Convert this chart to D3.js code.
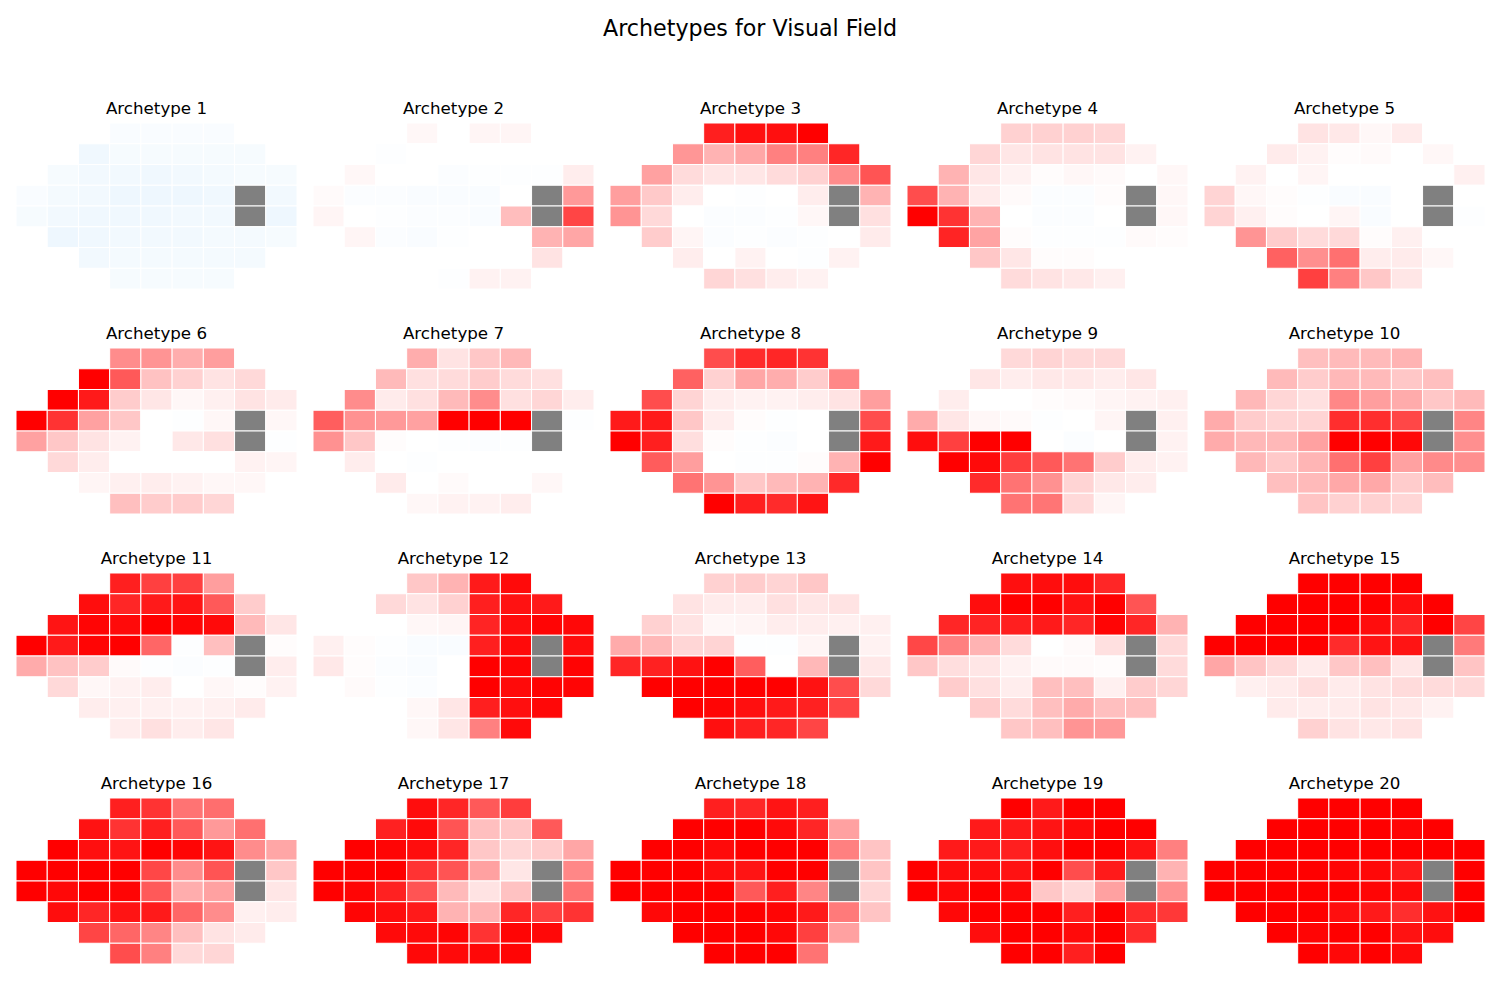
<!DOCTYPE html>
<html>
<head>
<meta charset="utf-8">
<script src="https://cdn.jsdelivr.net/npm/d3@7"></script>
<style>
  body { margin: 0; background: #fff; }
  text { font-family: "DejaVu Sans", sans-serif; fill: #000; }
</style>
</head>
<body>
<svg id="chart" width="1500" height="1000"></svg>
<script>
// first column of each of the 8 field rows (24-2 style pattern)
var rowStart = [3, 2, 1, 0, 0, 1, 2, 3];

// deviation per test point, -100..100 (null = blind spot)
var arch01 = [[-3,-3,-3,-3],[-7,-4,-4,-4,-4,-4],[-4,-6,-6,-7,-6,-5,-4,-4],[-3,-5,-6,-8,-8,-8,-7,null,-6],[-4,-6,-7,-7,-7,-6,-6,null,-8],[-8,-7,-6,-6,-6,-5,-5,-4],[-6,-5,-5,-5,-5,-5],[-4,-4,-4,-4]];
var arch02 = [[3,0,4,4],[-1,0,0,0,0,0],[3,0,0,-2,-1,-1,-1,7],[2,-2,-2,-3,-3,-3,0,null,40],[4,0,-1,-2,-2,-3,26,null,73],[4,-2,-3,-1,0,0,30,35],[0,0,0,0,0,11],[0,-1,5,5]];
var arch03 = [[88,94,94,100],[41,30,35,50,50,85],[37,14,10,10,14,18,45,67],[38,21,7,0,-1,0,7,null,30],[42,15,0,-2,-2,-1,3,null,12],[20,4,-2,-1,-2,-1,0,8],[7,0,5,0,-1,5],[16,12,7,5]];
var arch04 = [[18,18,18,16],[16,10,11,11,11,5],[30,10,5,1,3,2,0,3],[70,30,8,2,-2,-2,1,null,3],[100,80,30,0,-2,-2,0,null,3],[86,36,1,-1,-1,-1,2,1],[22,10,1,1,0,0],[14,11,9,6]];
var arch05 = [[11,9,3,8],[8,5,1,2,0,3],[5,0,4,0,0,0,0,6],[17,3,1,-1,-3,-3,0,null,0],[17,6,1,0,4,-3,0,null,-1],[42,20,14,15,1,6,0,0],[62,44,56,7,8,3],[75,50,22,10]];
var arch06 = [[45,42,32,38],[100,65,24,18,11,15],[100,90,20,10,3,6,11,8],[100,80,37,22,0,-1,3,null,3],[37,22,11,5,0,9,12,null,-1],[15,7,0,0,0,0,5,4],[4,6,7,5,3,3],[25,20,20,16]];
var arch07 = [[32,11,22,28],[27,12,14,20,14,12],[45,8,12,27,45,12,16,7],[63,43,40,37,100,100,100,null,-1],[43,22,1,0,-1,-2,-1,null,0],[7,0,-1,0,0,0,0,0],[8,0,2,0,0,3],[3,5,5,7]];
var arch08 = [[70,83,85,80],[62,18,35,32,20,47],[70,17,7,5,5,7,11,38],[90,90,22,7,1,-1,0,null,70],[100,88,13,1,-1,-2,0,null,90],[64,38,0,-1,-1,1,30,100],[55,42,22,27,30,84],[100,88,83,92]];
var arch09 = [[15,17,15,15],[10,7,9,9,7,10],[7,0,0,1,2,4,5,6],[33,10,3,2,-1,0,4,null,6],[95,75,100,100,0,-2,0,null,5],[100,96,76,65,55,20,7,5],[83,55,43,17,9,7],[55,54,15,4]];
var arch10 = [[25,27,27,30],[27,20,28,27,22,25],[28,16,12,47,38,33,22,27],[33,20,17,17,82,82,72,null,48],[33,28,28,37,100,100,97,null,44],[28,21,29,56,75,37,46,44],[25,27,34,34,20,26],[23,18,18,16]];
var arch11 = [[88,75,75,38],[95,85,90,92,65,20],[92,98,96,100,98,96,27,10],[100,90,98,100,60,-1,25,null,1],[33,24,20,2,-1,-2,-1,null,7],[15,3,5,7,0,3,1,5],[7,6,6,5,6,8],[7,12,7,10]];
var arch12 = [[22,30,90,96],[15,11,18,88,93,90],[0,0,3,4,86,95,98,97],[6,1,-1,-3,-3,88,96,null,95],[9,1,-2,-3,0,100,98,null,99],[2,-1,-2,0,100,96,99,98],[0,3,10,88,94,97],[3,10,50,96]];
var arch13 = [[18,20,17,22],[11,8,7,12,10,11],[18,11,3,4,7,7,6,6],[33,28,16,17,-1,-1,4,null,5],[85,87,93,100,63,0,28,null,9],[100,100,100,100,100,93,70,15],[100,98,94,90,87,73],[94,88,85,73]];
var arch14 = [[94,95,95,85],[95,100,100,93,100,67],[85,86,88,90,85,98,85,30],[72,50,30,14,0,2,12,null,15],[22,13,10,5,2,2,1,null,14],[20,12,7,25,25,6,20,16],[20,14,25,33,25,25],[22,25,42,40]];
var arch15 = [[100,100,100,100],[100,100,100,100,94,100],[100,100,100,100,95,85,100,73],[100,100,100,100,83,92,92,null,52],[35,23,15,8,22,25,10,null,23],[6,8,13,8,11,14,14,15],[8,7,8,11,9,5],[18,11,9,11]];
var arch16 = [[88,80,55,57],[93,80,88,65,40,56],[100,94,92,100,98,92,45,35],[100,100,100,100,72,45,67,null,22],[100,97,100,98,65,32,37,null,10],[95,85,92,90,60,45,6,7],[73,60,48,25,11,8],[70,50,15,16]];
var arch17 = [[95,85,65,76],[87,96,67,25,22,65],[100,98,95,85,22,16,20,35],[100,100,100,80,67,37,10,null,47],[100,98,87,67,27,11,24,null,55],[98,95,90,30,30,85,75,80],[96,96,98,80,98,97],[97,96,97,98]];
var arch18 = [[88,85,92,88],[100,100,100,96,85,37],[100,100,96,100,100,100,50,23],[100,100,100,95,92,100,100,null,23],[100,100,100,100,65,88,48,null,16],[97,100,100,100,98,90,52,23],[100,100,100,97,75,37],[100,100,100,55]];
var arch19 = [[100,90,100,100],[90,90,92,96,100,100],[90,90,88,94,100,100,92,50],[100,95,95,93,100,70,90,null,30],[100,97,100,97,22,15,37,null,43],[97,100,100,100,88,100,83,78],[95,100,100,96,100,83],[100,100,88,100]];
var arch20 = [[100,100,100,100],[100,100,100,100,98,100],[100,100,100,100,100,100,100,100],[100,100,100,100,98,97,90,null,100],[100,100,100,100,100,98,96,null,100],[100,100,100,94,90,82,93,100],[100,98,100,100,93,95],[100,97,100,96]];

var archetypes = [arch01, arch02, arch03, arch04, arch05, arch06, arch07, arch08, arch09, arch10,
                  arch11, arch12, arch13, arch14, arch15, arch16, arch17, arch18, arch19, arch20];

var svg = d3.select("#chart");

// Title
svg.append("text")
  .attr("x", 750)
  .attr("y", 36)
  .attr("text-anchor", "middle")
  .style("font-size", "22.2px")
  .text("Archetypes for Visual Field");

var panelW = 281, panelH = 166;
var x = d3.scaleBand().domain(d3.range(9)).range([0, panelW]);
var y = d3.scaleBand().domain(d3.range(8)).range([0, panelH]);

var color = d3.scaleLinear()
  .domain([-100, 0, 100])
  .range(["#28a0f0", "#ffffff", "#ff0000"])
  .clamp(true);

archetypes.forEach((arch, i) => {
  var col = i % 5, row = Math.floor(i / 5);
  var g = svg.append("g")
    .attr("transform", `translate(${16 + col * 297},${123 + row * 225})`);

  g.append("text")
    .attr("x", panelW / 2)
    .attr("y", -9)
    .attr("text-anchor", "middle")
    .style("font-size", "16.7px")
    .text("Archetype " + (i + 1));

  // flatten rows into cells
  var cells = [];
  arch.forEach((vals, r) => {
    vals.forEach((v, k) => cells.push({r: r, c: rowStart[r] + k, v: v}));
  });

  g.selectAll("rect")
    .data(cells)
    .enter()
    .append("rect")
    .attr("x", d => x(d.c))
    .attr("y", d => y(d.r))
    .attr("width", x.bandwidth())
    .attr("height", y.bandwidth())
    .attr("fill", d => d.v === null ? "#808080" : color(d.v))
    .attr("stroke", "#fff")
    .attr("stroke-width", 1);
});
</script>
</body>
</html>
